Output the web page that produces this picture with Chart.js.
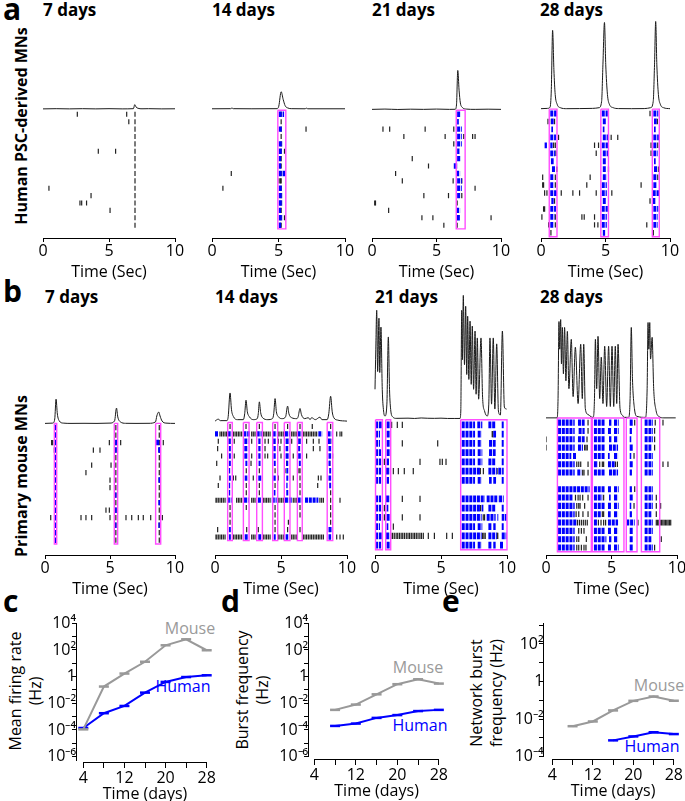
<!DOCTYPE html>
<html><head><meta charset="utf-8">
<script src="https://cdn.jsdelivr.net/npm/chart.js@4.4.1/dist/chart.umd.min.js"></script>
<style>
body{margin:0;background:#fff;}
#fig{position:relative;width:685px;height:801px;overflow:hidden;font-family:'Open Sans',sans-serif;color:#000;background:#fff}
.t{position:absolute;white-space:nowrap;line-height:1}
.b{font-weight:bold}
.rot{transform:translate(-50%,-50%) rotate(-90deg)}
.cen{transform:translate(-50%,-50%)}
.yt{position:absolute;white-space:nowrap;text-align:center;font-size:16px;line-height:20px;transform:translate(-50%,-50%) rotate(-90deg)}
canvas{position:absolute}
</style></head><body><div id="fig">
<div class="t b" style="left:3px;top:-6px;font-size:30px">a</div>
<div class="t b" style="left:3px;top:276px;font-size:30px">b</div>
<div class="t b" style="left:3px;top:586px;font-size:30px">c</div>
<div class="t b" style="left:221px;top:586px;font-size:30px">d</div>
<div class="t b" style="left:442px;top:586px;font-size:30px">e</div>
<div class="t b rot" style="left:21px;top:126px;font-size:16px">Human PSC-derived MNs</div>
<div class="t b rot" style="left:21px;top:476px;font-size:16px">Primary mouse MNs</div>
<div class="t b" style="left:43px;top:1px;font-size:17px">7 days</div>
<div class="t b" style="left:212px;top:1px;font-size:17px">14 days</div>
<div class="t b" style="left:372px;top:1px;font-size:17px">21 days</div>
<div class="t b" style="left:540px;top:1px;font-size:17px">28 days</div>
<div class="t b" style="left:45px;top:288px;font-size:17px">7 days</div>
<div class="t b" style="left:215px;top:288px;font-size:17px">14 days</div>
<div class="t b" style="left:375px;top:288px;font-size:17px">21 days</div>
<div class="t b" style="left:540px;top:288px;font-size:17px">28 days</div>
<div class="t cen" style="left:190px;top:628px;font-size:16px;color:#9a9a9a">Mouse</div>
<div class="t cen" style="left:183px;top:686px;font-size:16px;color:#0000ff">Human</div>
<div class="t cen" style="left:418px;top:667px;font-size:16px;color:#9a9a9a">Mouse</div>
<div class="t cen" style="left:420px;top:725px;font-size:16px;color:#0000ff">Human</div>
<div class="t cen" style="left:659px;top:685px;font-size:16px;color:#9a9a9a">Mouse</div>
<div class="t cen" style="left:652px;top:746px;font-size:16px;color:#0000ff">Human</div>
<div class="yt" style="left:25px;top:691px">Mean firing rate<br>(Hz)</div>
<div class="yt" style="left:252px;top:690px">Burst frequency<br>(Hz)</div>
<div class="yt" style="left:486px;top:693px">Network burst<br>frequency (Hz)</div>
</div>
<script>
// ---------------- DATA ----------------
// Raster panels: spikes = [row, t1, t2, ...] (s); bursts = [row, start, end, start, end ...]; network = [start, end]; trace = [t, amplitude (a.u.)]
const h7_trace = [[0,0.3],[1,0.5],[2,0.3],[3,0.5],[4,0.3],[5,0.5],[6,0.3],[6.85,0.5],[6.95,4.6],[7.05,2.2],[7.2,0.9],[7.5,0.4],[8,0.5],[9,0.3],[10,0.4]];
const h7_spikes = [[0,2.6,6.34,6.97],[1,6.5,6.97],[2,6.97],[3,6.97],[4,6.97],[5,4.19,5.5,6.97],[6,6.97],[7,6.97],[8,6.97],[9,6.97],[10,0.45,6.97],[11,3.64,6.97],[12,2.8,2.93,3.3,6.97],[13,5.08,6.97],[14,6.97],[15,6.97]];
const h7_bursts = [];
const h7_network = [];

const h14_trace = [[0,0.4],[1.4,0.5],[1.5,1.2],[1.6,0.5],[3,0.4],[4.9,0.5],[5.02,3],[5.2,17.7],[5.35,10],[5.5,3.5],[5.7,1.2],[6,0.5],[7,0.4],[7.1,1],[7.2,0.4],[10,0.4]];
const h14_spikes = [[0,5.2],[1,5.2],[2,5.2,7.07],[3,5.2],[4,5.2],[5,5.2,5.45],[6,5.2],[7,5.2],[8,1.45,5.2],[9,5.05,5.15,5.2],[10,0.82,5.2],[11,5.2],[12,5.2],[13,5.2],[14,5.2,5.45],[15,5.2]];
const h14_bursts = [[0,5.02,5.42],[2,5.02,5.25],[4,5.02,5.32],[5,5.02,5.25],[6,5.02,5.2],[7,5.02,5.2],[8,5.02,5.52],[10,5.02,5.25],[11,5.02,5.32],[12,5.02,5.32],[13,5.02,5.2],[14,5.02,5.32],[15,5.02,5.2]];
const h14_network = [[4.95,5.55]];

const h21_trace = [[0,0.5],[1,0.8],[2,0.4],[3,0.7],[4,0.5],[5,0.8],[6,0.5],[6.45,0.6],[6.55,5],[6.65,40],[6.75,20],[6.85,7],[7.0,2.5],[7.3,0.8],[8,0.5],[9,0.7],[10,0.5]];
const h21_spikes = [[2,0.85,1.37,4.12,6.34],[3,2.47,5.67,7.11,7.8,7.99],[4,6.34],[6,3.12],[7,4.38],[8,1.83],[9,2.35,6.29,6.96],[10,7.99],[11,4.02,5.93,6.96],[12,0.21,0.27,6.6],[13,1.29],[14,3.87,4.72,9.23],[15,5.57,6.6]];
const h21_bursts = [[0,6.6,6.85],[1,6.6,6.73],[2,6.6,6.96],[3,6.6,6.96],[4,6.6,6.96],[5,6.6,6.78],[6,6.6,6.9],[7,6.34,6.65],[8,6.52,6.83],[9,6.6,6.96],[10,6.6,6.96],[11,6.6,6.83],[13,6.52,6.83],[14,6.58,6.83]];
const h21_network = [[6.53,7.22]];

const h28_trace = [[0,0.5],[0.5,0.8],[0.7,2],[0.8,20],[0.9,80],[1.0,40],[1.1,15],[1.25,5],[1.5,1.5],[2,0.5],[3,0.6],[4,0.8],[4.5,1.5],[4.7,8],[4.8,45],[4.92,88],[5.02,45],[5.15,15],[5.3,5],[5.6,1.5],[6,0.6],[7,0.5],[8,0.6],[8.5,1.5],[8.7,8],[8.8,45],[8.89,89],[8.98,45],[9.1,15],[9.25,5],[9.5,1.5],[10,0.5]];
const h28_spikes = [[0,8.45],[1,0.54,0.67,1.05,9.02],[3,1.36,5.44,5.95],[4,0.98,1.11,4.15,4.46,8.53,9.05],[5,1.16,4.28,8.53],[7,1.23,5.23,9.1],[8,0.13,1.11,3.81,9.05],[9,0.13,0.2,1.11,3.55,7.76],[10,0.28,0.46,1.57,2.47,2.99,4.28,5.49],[11,1.05,8.45],[12,0.2,0.28],[13,0.07,1.11,3.17,3.35,4.15],[14,0.59,1.11,4.15,4.41,8.2],[15,0.77,8.71]];
const h28_bursts = [[0,0.72,1.23,4.71,5.18,8.71,9.1],[1,0.77,0.98,4.79,5.05,8.76,8.97],[2,0.8,0.93,4.79,4.92,8.76,8.89],[3,0.72,1.16,4.79,5.28,8.71,9.15],[4,0.28,0.46,0.72,0.9,4.71,5.23,8.71,8.97],[5,0.72,1.11,4.79,5.23,8.71,9.05],[6,0.77,0.98,4.79,5.05,8.76,8.89],[7,0.85,1.11,4.79,5.05,8.76,9.05],[8,0.72,0.98,4.79,5.1,8.71,8.97],[9,0.72,0.98,4.71,5.1,8.71,8.97],[10,0.72,1.23,4.71,5.1,8.66,9.23],[11,0.8,0.98,4.79,5.02,8.63,8.89],[12,0.72,1.16,4.71,5.18,8.71,9.1],[13,0.72,1.05,4.71,5.1,8.71,9.05],[14,0.72,0.98,4.71,5.1,8.71,9.05],[15,4.79,4.97]];
const h28_network = [[0.64,1.24],[4.64,5.23],[8.63,9.17]];

const m7_trace = [[0,0.5],[0.6,0.8],[0.75,5],[0.85,25],[0.95,10],[1.1,3],[1.4,0.8],[2,0.5],[3,0.6],[4,0.5],[5,0.8],[5.35,3],[5.5,16],[5.6,7],[5.8,2],[6.2,0.6],[7,0.5],[8,0.6],[8.5,2],[8.6,8],[8.75,12],[8.85,8],[9.0,3],[9.3,0.8],[10,0.5]];
const m7_spikes = [[0,5.45,8.79],[1,5.45,8.79],[2,0.51,0.59,4.95,5.45,5.82,8.79,9.1],[3,0.72,3.72,4.23,5.45,8.79,8.85],[4,5.45,8.79,8.85],[5,3.59,5.08,5.45,8.79],[6,3.15,5.45,8.79],[7,5.0,5.45,8.79],[8,5.0,5.45,8.79],[9,5.45,8.79],[10,5.45,8.79],[11,4.69,4.95,5.45,8.79],[12,0.44,2.77,3.15,3.59,5.0,5.45,6.23,6.67,7.18,7.56,8.13,8.79,9.03],[13,5.45,8.79],[14,5.45,8.79],[15,5.45,8.79]];
const m7_bursts = [[0,0.76,0.86],[1,0.76,0.86],[2,0.7,0.86,5.4,5.56,8.55,8.85],[3,0.72,0.86,5.4,5.52,8.7,8.85],[4,0.76,0.86],[5,0.76,0.86],[6,0.76,0.86],[7,0.76,0.86,8.72,8.85],[8,0.76,0.86],[9,0.76,0.86,5.4,5.5],[10,0.76,0.86,8.72,8.85],[11,0.76,0.86,5.4,5.52],[12,0.76,0.86],[13,0.76,0.86,5.4,5.5,8.72,8.82],[14,0.76,0.86],[15,0.76,0.86]];
const m7_network = [[0.72,0.9],[5.33,5.59],[8.51,8.9]];

const m14_trace = [[0,0.5],[0.25,2.5],[0.4,1],[0.9,1],[1.0,5],[1.14,29],[1.25,12],[1.4,5],[1.7,2],[2.15,2],[2.25,8],[2.35,21.7],[2.45,10],[2.6,5],[2.9,2],[3.2,3],[3.28,8],[3.36,20],[3.46,9],[3.6,4],[4.0,2],[4.35,3],[4.45,8],[4.55,23.3],[4.65,10],[4.8,5],[5.1,3],[5.35,5],[5.5,15.7],[5.6,8],[5.8,4],[6.2,3],[6.3,5],[6.44,13.3],[6.55,7],[6.8,3],[7.07,4],[7.2,2],[7.32,4],[7.6,2],[7.95,4.5],[8.1,2],[8.5,2],[8.62,8],[8.76,25.7],[8.88,10],[9.0,4],[9.3,1.5],[10,0.5]];
const m14_spikes = [[0,1.14,2.35,3.36,4.55,5.5,6.44,7.37,8.76],
[1,0.38,0.5,0.63,0.76,0.88,1.39,1.52,1.64,1.77,1.89,2.02,2.78,2.9,3.03,3.66,3.79,3.91,4.04,4.17,4.8,4.92,5.05,5.18,5.81,5.93,6.06,6.19,6.69,6.82,6.94,7.07,7.2,7.32,7.45,7.58,7.7,9.22,9.47,9.6],
[2,0.25,1.46,2.78,3.79,4.04,4.8,5.0,5.81,6.94,7.45,7.88,8.89],
[3,0.2,3.79,4.92,7.45,7.95],
[4,0.5,1.46,2.78,3.79,3.99,5.0,5.93,6.94,8.91],
[5,0.13,2.73,5.43,8.7],
[6,2.37,3.36,4.55,5.3,6.36,6.44],
[7,0.38,1.39,1.57,2.9,4.8,5.93,6.44,7.83,8.03],
[8,0.25,2.37,3.36,4.55,6.44,7.78],
[9,2.37,3.36,6.44,8.76],
[10,0.0,0.13,0.25,0.38,0.5,0.63,0.76,1.64,1.77,1.89,2.02,2.78,2.9,3.03,3.66,3.79,3.91,4.04,4.17,4.8,4.92,5.05,5.18,5.93,6.06,6.19,7.95,8.08,8.21,8.76,9.47],
[11,1.14,2.37,4.55,6.44,8.76],
[12,1.14,4.55,6.44,8.76],
[13,1.14,4.55,5.56,8.76],
[14,0.2,2.4,3.28,4.55,5.5,6.44],
[15,0.0,0.13,0.25,0.38,0.5,0.63,0.76,1.39,1.52,1.64,1.77,1.89,2.02,2.78,2.9,3.03,3.66,3.79,3.91,4.04,4.17,4.8,4.92,5.05,5.18,5.81,5.93,6.06,6.19,6.69,6.82,6.94,7.07,7.2,7.32,7.45,7.58,7.7,7.83,7.95,8.08,8.21,9.22,9.47,9.72]];
const m14_bursts = [[1,0.0,0.25,0.96,1.26,2.15,2.65,3.16,3.54,4.37,4.67,5.3,5.68,6.26,6.57,7.83,8.13,8.53,8.84],
[2,1.02,1.2,2.22,2.53,3.28,3.45,4.4,4.6,5.35,5.6,6.3,6.5,8.55,8.85],
[3,1.05,1.2,2.22,2.45,3.28,3.45,4.42,4.6,5.35,5.55,6.3,6.45,8.6,8.8],
[4,1.05,1.2,2.22,2.45,3.28,3.45,4.42,4.6,5.35,5.6,6.3,6.5,8.6,8.8],
[5,1.05,1.2,2.3,2.45,3.3,3.45,4.45,4.6,5.4,5.55,6.35,6.5,8.6,8.75],
[6,1.05,1.15,5.4,5.55,8.65,8.8],
[7,1.05,1.2,2.25,2.45,3.28,3.59,4.42,4.6,5.4,5.55,8.6,8.8],
[8,1.05,1.15,5.4,5.5,8.65,8.8],
[9,1.05,1.15,4.45,4.58,5.4,5.55],
[10,0.9,1.26,2.2,2.55,3.25,3.5,4.3,4.67,5.3,5.81,6.26,6.57,6.82,7.83],
[14,1.05,1.2,8.6,8.9],
[15,1.05,1.2,2.25,2.5,3.28,3.5,4.45,4.6,5.35,5.55,8.6,8.8]];
const m14_network = [[0.96,1.31],[2.15,2.58],[3.16,3.59],[4.37,4.75],[5.25,5.68],[6.24,6.61],[8.5,8.92]];

const m21_trace = [[0,30],[0.06,70],[0.13,110],[0.2,48],[0.3,102],[0.36,47],[0.45,93],[0.55,30],[0.65,8],[0.76,3],[0.9,15],[1.01,83],[1.1,30],[1.2,8],[1.35,2],[1.6,0.6],[2.5,0.8],[3.0,0.5],[3.5,1],[4.0,0.7],[4.5,0.6],[5.0,0.8],[5.5,0.5],[6.0,0.5],[6.44,0.5],[6.5,8],[6.57,110],[6.62,60],[6.69,125],[6.78,55],[6.87,114],[6.95,45],[7.02,104],[7.11,40],[7.2,99],[7.29,35],[7.37,94],[7.47,30],[7.58,89],[7.66,25],[7.75,82],[7.85,20],[8.03,82],[8.15,22],[8.3,8],[8.5,3],[8.62,15],[8.71,82],[8.83,15],[8.96,82],[9.08,10],[9.22,76],[9.35,8],[9.5,4],[9.65,89],[9.8,12],[9.97,10]];
const m21_spikes = [[0,1.26,1.69,2.07],[1,8.88,8.92],[2,2.07,4.75],[4,0.71,3.41,4.92,5.1,5.38],[5,1.39,1.77,2.22,2.9,7.98,8.21,9.25],[8,2.07,3.41],[9,0.71,8.0],[10,0.71,2.07,3.41,8.2,8.3],[11,1.39],
[12,1.2,1.33,1.46,1.6,1.72,1.85,1.98,2.1,2.23,2.37,2.5,2.62,2.75,2.88,3.0,3.13,3.26,3.4,3.52,3.66,4.04,4.5,5.43,5.86,8.15,8.25,8.35,9.25,9.3]];
const m21_bursts = [[0,0.0,0.51,0.88,1.14,6.57,7.58,7.75,8.13,8.59,9.14,9.6,9.75],
[1,0.0,0.38,0.88,1.14,6.57,7.58,7.78,8.08,8.96,9.17,9.6,9.75],
[2,0.0,0.38,0.88,1.14,6.57,7.58,7.78,8.08,8.64,9.14,9.6,9.75],
[3,0.0,0.46,0.88,1.14,6.57,7.58,7.78,8.13,8.64,9.14,9.6,9.75],
[4,0.0,0.46,0.88,1.06,6.57,7.58,7.78,8.13,8.59,9.14,9.6,9.75],
[5,0.0,0.46,0.83,1.14,6.57,7.95,8.59,9.22,9.34,9.75],
[6,0.0,0.46,0.88,1.06,6.57,7.58,7.78,8.08,8.64,8.84,8.96,9.17,9.6,9.75],
[8,0.0,0.46,0.83,1.14,6.57,8.33,8.46,9.34,9.4,9.75],
[9,0.0,0.46,0.88,1.01,6.57,7.95,8.08,8.21,8.59,9.14,9.6,9.75],
[10,0.0,0.46,0.88,1.14,6.57,8.08,8.46,9.14,9.27,9.34,9.6,9.8,9.85,9.97],
[11,0.0,0.38,0.88,1.01,6.57,7.58,7.78,8.13,8.59,8.84,8.96,9.14,9.6,9.75],
[12,0.0,0.51,0.83,1.14,6.57,8.08,8.59,9.22,9.6,9.97],
[13,0.0,0.46,0.88,1.14,6.57,7.58,7.78,8.08,8.59,8.84,8.96,9.14,9.47,9.75]];
const m21_network = [[0.04,0.56],[0.81,1.19],[6.49,10.0]];

const m28_trace = [[0,0.5],[0.85,0.5],[0.92,20],[0.99,98],[1.05,70],[1.12,100],[1.18,55],[1.25,92],[1.33,45],[1.42,92],[1.52,38],[1.63,88],[1.75,30],[1.93,80],[2.07,22],[2.24,72],[2.45,15],[2.65,75],[2.77,20],[2.88,75],[3.0,10],[3.2,4],[3.46,1.5],[3.6,1],[3.7,20],[3.77,80],[3.87,30],[3.97,83],[4.1,20],[4.22,62],[4.35,15],[4.48,73],[4.63,12],[4.78,73],[4.91,12],[5.04,73],[5.17,12],[5.29,73],[5.4,15],[5.5,75],[5.65,10],[5.85,3],[5.95,1],[6.3,1],[6.42,20],[6.51,92],[6.6,40],[6.75,10],[6.95,2],[7.6,1],[7.72,30],[7.79,97],[7.85,70],[7.92,97],[7.98,60],[8.1,82],[8.22,30],[8.4,8],[8.6,2],[9.0,0.5],[9.9,0.5]];
const m28_spikes = [[0,3.21,6.77,8.34,8.93],[1,3.21,8.29],[2,0.0,3.13,8.29],[3,0.0,2.95,3.05,3.15,8.29],[4,6.72],[5,2.35,2.5,2.65,3.21,4.1,4.3,4.4,5.3,5.45,8.93,9.31],[6,2.8,2.9,3.21],[8,6.77],[9,2.25,2.45,2.6,2.8,3.21,4.4,8.42],[10,2.35,2.5,2.6,2.95,6.72,8.42,8.75],[11,2.3,2.5,2.82,3.21,4.3,4.4,8.42],
[12,2.4,2.55,2.7,2.85,3.0,3.15,4.0,4.2,4.4,4.55,7.02,8.42,8.52,8.62,8.72,8.82,8.92,9.02,9.12,9.22,9.32,9.42,9.52],[13,2.5,2.7,2.9],[14,2.35,2.5,3.08,8.8],[15,2.35,2.5,2.7,2.9,3.05,8.29]];
const m28_bursts = [[0,0.92,2.19,2.44,2.95,3.66,4.48,4.81,4.99,5.19,5.55,6.39,6.64,7.53,8.17],
[1,0.92,2.19,2.49,2.95,3.66,4.48,4.73,4.99,5.19,5.55,6.39,6.56,7.53,8.17],
[2,0.92,2.19,2.44,2.95,3.66,4.48,4.81,4.99,5.19,5.5,6.39,6.51,7.53,8.17],
[3,0.92,2.19,2.44,2.82,3.66,4.48,4.81,5.5,6.39,6.64,7.53,8.04],
[4,0.92,1.93,2.06,2.32,3.66,4.48,4.73,4.86,5.19,5.5,6.39,6.51,7.53,8.17],
[5,0.92,2.19,3.66,3.97,4.73,5.24,6.39,6.64,7.53,8.17],
[6,0.92,2.19,2.39,2.7,3.66,4.48,4.81,5.5,6.39,6.56,7.53,8.17],
[8,0.92,3.33,3.66,4.48,4.73,4.99,5.19,5.55,6.39,6.56,7.53,8.17],
[9,0.92,2.06,3.66,4.3,4.81,4.94,5.19,5.5,6.39,6.64,7.53,8.17],
[10,0.92,2.19,3.66,4.48,4.73,4.99,5.19,5.55,6.39,6.51,7.53,8.17],
[11,0.92,2.19,3.66,4.2,4.73,4.94,5.19,5.5,6.39,6.56,7.53,8.04],
[12,0.92,2.32,3.66,3.9,4.73,5.5,6.13,6.77,7.53,8.17],
[13,0.92,2.19,3.66,4.48,4.73,4.99,5.19,5.5,6.39,6.64,7.53,8.17],
[14,0.92,2.19,3.66,4.61,4.81,4.99,5.19,5.5,6.39,6.64,7.53,8.04],
[15,0.92,2.19,3.66,4.48,4.73,4.99,5.19,5.55,6.39,6.64,7.53,8.17]];
const m28_network = [[0.87,3.46],[3.54,5.95],[6.13,6.95],[7.28,8.68]];

// Line charts
const days = [4, 8, 12, 16, 20, 24, 28];
const dayTickLabels = [4, 12, 20, 28];
const firingMouse = [1.1e-4, 0.18, 1.7, 13, 224, 630, 95];
const firingHuman = [1.4e-4, 1.8e-3, 6.3e-3, 0.063, 0.4, 0.93, 1.26];
const burstDays = [8, 12, 16, 20, 24, 28];
const burstMouse = [3.2e-3, 8e-3, 0.047, 0.27, 0.63, 0.3];
const burstHuman = [2e-4, 3e-4, 8e-4, 1.3e-3, 2.6e-3, 3.2e-3];
const netMouseDays = [8, 12, 16, 20, 24, 28];
const netMouse = [4.2e-3, 7.5e-3, 0.029, 0.094, 0.16, 0.095];
const netHumanDays = [16, 20, 24, 28];
const netHuman = [7.4e-4, 1.2e-3, 2e-3, 1.6e-3];

// ---------------- DRAWING ----------------
Chart.defaults.font.family = "'Open Sans', sans-serif";
Chart.defaults.color = '#000';
Chart.defaults.animation = false;
Chart.defaults.events = [];
Chart.defaults.plugins.legend.display = false;
Chart.defaults.plugins.tooltip.enabled = false;
const fig = document.getElementById('fig');

function addCanvas(l, t, w, h) {
  const cv = document.createElement('canvas');
  cv.width = w; cv.height = h;
  cv.style.left = l + 'px'; cv.style.top = t + 'px';
  fig.appendChild(cv);
  return cv;
}

function raster(g, trace, spikes, bursts, network) {
  const padL = 16, padR = 16, padT = 2, axisH = 46;
  const cv = addCanvas(g.x0 - padL, g.top - padT, (g.x10 - g.x0) + padL + padR, (g.axisY - g.top) + padT + axisH);
  const spk = [];
  spikes.forEach(r => { for (let i = 1; i < r.length; i++) spk.push({x: r[i], y: r[0]}); });
  const bst = [];
  bursts.forEach(r => { for (let i = 1; i < r.length; i += 2) bst.push({x: r[i], y: r[0]}, {x: r[i + 1], y: r[0]}, {x: r[i + 1], y: null}); });
  const bt = -0.55, bb = g.n - 1 + 0.5;
  const box = [];
  network.forEach(b => box.push({x: b[0], y: bt}, {x: b[1], y: bt}, {x: b[1], y: bb}, {x: b[0], y: bb}, {x: b[0], y: bt}, {x: b[0], y: null}));
  new Chart(cv, {
    type: 'line',
    data: {datasets: [
      {data: box, yAxisID: 'yR', borderColor: '#ff4dff', borderWidth: 1.4, pointRadius: 0, clip: false},
      {data: bst, yAxisID: 'yR', borderColor: '#0000ff', borderWidth: g.sp * 0.72, borderCapStyle: 'butt', borderDash: [3, 0.8], pointRadius: 0},
      {data: spk, yAxisID: 'yR', showLine: false, pointStyle: 'line', pointRotation: 90, pointRadius: g.sp * 0.34, pointBorderWidth: 1.2, pointBorderColor: '#222'},
      {data: trace.map(p => ({x: p[0], y: p[1]})), yAxisID: 'yT', borderColor: '#1a1a1a', borderWidth: 1, pointRadius: 0, cubicInterpolationMode: 'monotone', clip: false}
    ]},
    options: {
      responsive: false,
      layout: {padding: {left: padL, right: padR, top: padT, bottom: 0}},
      scales: {
        x: {type: 'linear', min: 0, max: 10, afterFit: s => { s.height = axisH; },
            ticks: {stepSize: 5, font: {size: 16}, padding: 0, maxRotation: 0},
            grid: {drawOnChartArea: false, tickLength: 4, color: '#000'},
            border: {color: '#000', width: 1},
            title: {display: true, text: 'Time (Sec)', font: {size: 16}, padding: {top: 0, bottom: 2}}},
        yR: {display: false, reverse: true, min: (g.top - g.row0) / g.sp, max: (g.axisY - g.row0) / g.sp},
        yT: {display: false, min: -(g.axisY - g.base), max: g.base - g.top}
      }
    }
  });
}

raster({x0: 43, x10: 175, top: 15, axisY: 238, row0: 112.5, sp: 7.5, base: 107.3, n: 16}, h7_trace, h7_spikes, h7_bursts, h7_network);
raster({x0: 211.7, x10: 345, top: 15, axisY: 238, row0: 112.5, sp: 7.5, base: 107.3, n: 16}, h14_trace, h14_spikes, h14_bursts, h14_network);
raster({x0: 372.3, x10: 501.7, top: 15, axisY: 238, row0: 112.5, sp: 7.5, base: 108, n: 16}, h21_trace, h21_spikes, h21_bursts, h21_network);
raster({x0: 540.7, x10: 670, top: 15, axisY: 238, row0: 111.7, sp: 8.07, base: 107.3, n: 16}, h28_trace, h28_spikes, h28_bursts, h28_network);
raster({x0: 45, x10: 175, top: 288, axisY: 555, row0: 426, sp: 7.6, base: 422.3, n: 16}, m7_trace, m7_spikes, m7_bursts, m7_network);
raster({x0: 215, x10: 347, top: 288, axisY: 555, row0: 425, sp: 7.45, base: 420, n: 16}, m14_trace, m14_spikes, m14_bursts, m14_network);
raster({x0: 375, x10: 507, top: 288, axisY: 555, row0: 423.3, sp: 9.36, base: 417.3, n: 14}, m21_trace, m21_spikes, m21_bursts, m21_network);
raster({x0: 546, x10: 677, top: 288, axisY: 555, row0: 421, sp: 8.43, base: 416.7, n: 16}, m28_trace, m28_spikes, m28_bursts, m28_network);

const SUP = {'-': '\u207B', '0': '\u2070', '1': '\u00B9', '2': '\u00B2', '3': '\u00B3', '4': '\u2074', '5': '\u2075', '6': '\u2076'};
function expLabel(v) {
  const e = Math.round(Math.log10(v));
  if (e % 2 !== 0) return '';
  if (e === 0) return '1';
  return '10' + String(e).split('').map(c => SUP[c]).join('');
}

function logChart(g, sets) {
  const cv = addCanvas(g.cl, g.ct, g.cw, g.ch);
  const pxDay = (g.R - g.L) / 24;
  const yAxisVal = 4 - (g.L - g.yAxisX) / pxDay;
  const pxDec = (g.B - g.T) / (g.eMax - g.eMin);
  const xAxisVal = Math.pow(10, g.eMin - (g.xAxisY - g.B) / pxDec);
  const exps = [];
  for (let e = Math.ceil(g.eMin - 1e-9); e <= Math.floor(g.eMax + 1e-9); e++) exps.push(e);
  new Chart(cv, {
    type: 'line',
    data: {datasets: sets.map(s => ({
      data: s.x.map((d, i) => ({x: d, y: s.y[i]})),
      borderColor: s.color, borderWidth: 2, pointStyle: 'line', pointRadius: 5, pointBorderWidth: 2.5,
      pointBorderColor: s.color, clip: false
    }))},
    options: {
      responsive: false,
      layout: {padding: {left: g.L - g.cl, right: g.cl + g.cw - g.R, top: g.T - g.ct, bottom: g.ct + g.ch - g.B}},
      scales: {
        x: {type: 'linear', min: 4, max: 28, position: {y: xAxisVal},
            afterBuildTicks: s => { s.ticks = days.map(v => ({value: v})); },
            afterFit: s => { s.height = g.xH; },
            ticks: {autoSkip: false, maxRotation: 0, font: {size: 16}, padding: g.xPad, callback: v => dayTickLabels.includes(v) ? String(v) : ''},
            grid: {drawOnChartArea: false, tickLength: 5, color: '#000'},
            border: {color: '#000', width: 1},
            title: {display: true, text: 'Time (days)', font: {size: 16}, padding: {top: 0, bottom: 0}}},
        y: {type: 'logarithmic', min: Math.pow(10, g.eMin), max: Math.pow(10, g.eMax), position: {x: yAxisVal},
            afterBuildTicks: s => { s.ticks = exps.map(e => ({value: Math.pow(10, e)})); },
            ticks: {autoSkip: false, font: {size: 16}, padding: 2, callback: v => expLabel(v)},
            grid: {drawOnChartArea: false, tickLength: 4, color: '#000'},
            border: {color: '#000', width: 1}}
      }
    }
  });
}

logChart({cl: 0, ct: 600, cw: 225, ch: 201, L: 83.3, R: 206.7, T: 623.3, eMax: 4, eMin: -6.3, B: 760.6, xAxisY: 762, yAxisX: 76, xH: 42, xPad: 2},
  [{x: days, y: firingMouse, color: '#999999'}, {x: days, y: firingHuman, color: '#0000ff'}]);
logChart({cl: 225, ct: 600, cw: 225, ch: 201, L: 314.3, R: 441.7, T: 623.3, eMax: 4, eMin: -6, B: 756.6, xAxisY: 759.3, yAxisX: 308, xH: 42, xPad: 2},
  [{x: burstDays, y: burstMouse, color: '#999999'}, {x: burstDays, y: burstHuman, color: '#0000ff'}]);
logChart({cl: 455, ct: 600, cw: 230, ch: 201, L: 552.3, R: 676.7, T: 623.3, eMax: 3.1, eMin: -4, B: 756.7, xAxisY: 759.3, yAxisX: 543.3, xH: 42, xPad: 2},
  [{x: netMouseDays, y: netMouse, color: '#999999'}, {x: netHumanDays, y: netHuman, color: '#0000ff'}]);
</script></body></html>
